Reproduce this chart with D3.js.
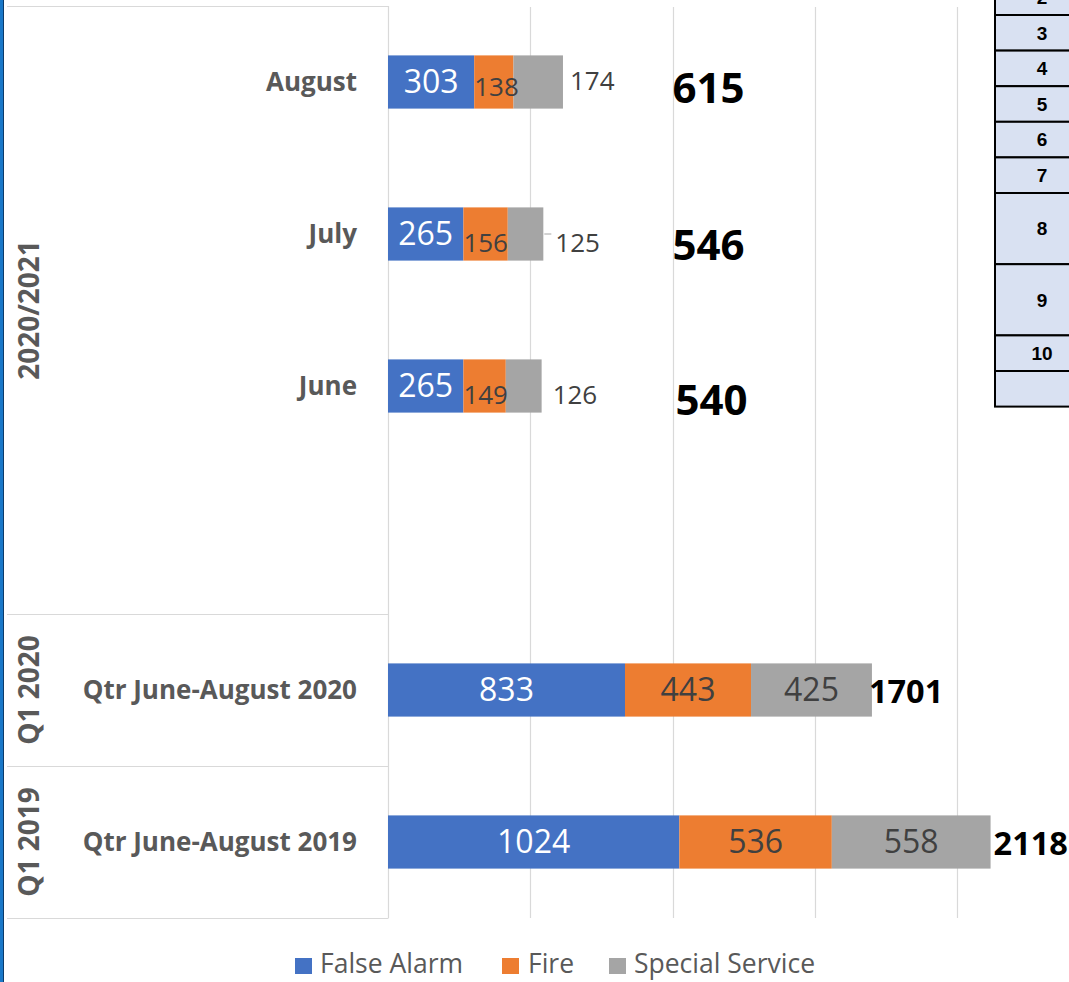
<!DOCTYPE html>
<html>
<head>
<meta charset="utf-8">
<script src="https://cdn.jsdelivr.net/npm/d3@7/dist/d3.min.js"></script>
<style>
  html, body { margin: 0; padding: 0; background: #ffffff; }
  svg { display: block; }
</style>
</head>
<body>
<svg id="chart" width="1069" height="982"></svg>
<script>
// ---------- data ----------
const categories = ["August", "July", "June", "", "Qtr June-August 2020", "Qtr June-August 2019"];
const falseAlarm = [303, 265, 265, null, 833, 1024];
const fire = [138, 156, 149, null, 443, 536];
const specialService = [174, 125, 126, null, 425, 558];
const totals = [615, 546, 540, null, 1701, 2118];
const groupLabels = ["2020/2021", "Q1 2020", "Q1 2019"];
const groupSpans = [4, 1, 1];
const seriesNames = ["False Alarm", "Fire", "Special Service"];
const gridTicks = [0, 500, 1000, 1500, 2000];
const tableLabels = ["2", "3", "4", "5", "6", "7", "8", "9", "10", ""];
const tableRowUnits = [1, 1, 1, 1, 1, 1, 2, 2, 1, 1];

// ---------- layout ----------
const W = 1069, H = 982;
const colors = ["#4472C4", "#ED7D31", "#A5A5A5"];
const FONT = "'Open Sans', 'Noto Sans', sans-serif";
const svg = d3.select("#chart");

const plotTop = 6, plotBottom = 918, axisX = 388, catLeft = 7;
const x = d3.scaleLinear().domain([0, 2000]).range([axisX, 957]);
const y = d3.scaleBand().domain(d3.range(categories.length)).range([plotTop, plotBottom]).padding(0);
const barH = y.bandwidth() * 0.35;
const cy = i => y(i) + y.bandwidth() / 2;

// left blue strip
svg.append("rect").attr("x", 0).attr("y", 0).attr("width", 3).attr("height", H).attr("fill", "#1a78c8");
svg.append("line").attr("x1", 3.5).attr("x2", 3.5).attr("y1", 0).attr("y2", H).attr("stroke", "#0b3b6a").attr("stroke-width", 1);

// gridlines
svg.append("g").selectAll("line").data(gridTicks.slice(1)).join("line")
  .attr("x1", d => Math.round(x(d)) + 0.5).attr("x2", d => Math.round(x(d)) + 0.5)
  .attr("y1", plotTop + 1).attr("y2", plotBottom)
  .attr("stroke", "#d9d9d9").attr("stroke-width", 1.2);

// category frame (multi-level axis)
const frame = svg.append("g").attr("stroke", "#d9d9d9").attr("stroke-width", 1.2).attr("fill", "none");
frame.append("line").attr("x1", axisX + 0.5).attr("x2", axisX + 0.5).attr("y1", plotTop).attr("y2", plotBottom);
let acc = 0;
const groupBounds = [];
groupSpans.forEach((s, gi) => {
  const y0 = y(acc), y1 = y(acc + s - 1) + y.bandwidth();
  groupBounds.push([y0, y1]);
  acc += s;
});
const hLines = [plotTop].concat(groupBounds.map(b => b[1]));
frame.selectAll("line.h").data(hLines).join("line").attr("class", "h")
  .attr("x1", catLeft).attr("x2", axisX + 0.5)
  .attr("y1", d => Math.round(d) + 0.5).attr("y2", d => Math.round(d) + 0.5);

// group labels (rotated)
svg.append("g").selectAll("text").data(groupLabels).join("text")
  .attr("transform", (d, i) => `translate(29,${(groupBounds[i][0] + groupBounds[i][1]) / 2}) rotate(-90)`)
  .attr("text-anchor", "middle").attr("dy", "0.35em")
  .attr("font-family", FONT).attr("font-weight", "bold").attr("font-size", 28)
  .attr("fill", "#595959").text(d => d);

// category labels
svg.append("g").selectAll("text").data(categories).join("text")
  .attr("x", 357).attr("y", (d, i) => cy(i)).attr("dy", "0.35em")
  .attr("text-anchor", "end")
  .attr("font-family", FONT).attr("font-weight", "bold").attr("font-size", 26)
  .attr("fill", "#595959").text(d => d);

// stacked bars
const rows = categories.map((c, i) => ({ i, vals: [falseAlarm[i], fire[i], specialService[i]] }))
  .filter(r => r.vals[0] != null);
const segs = [];
rows.forEach(r => {
  let s = 0;
  r.vals.forEach((v, k) => { segs.push({ i: r.i, k, v, x0: s, x1: s + v }); s += v; });
});
svg.append("g").selectAll("rect").data(segs).join("rect")
  .attr("x", d => x(d.x0)).attr("width", d => x(d.x1) - x(d.x0))
  .attr("y", d => cy(d.i) - barH / 2).attr("height", barH)
  .attr("fill", d => colors[d.k]);

// value labels
const isMonth = i => i < 3;
// nudges for manually placed month labels per row
const monthFireDy = [5, 9, 9];
const monthSpecDx = [7, 12, 11];
const monthSpecDy = [-1, 9, 9];
const totalDy = [6, 11, 14];
const totalDx = [0, 0, 3];

const lab = svg.append("g").attr("font-family", FONT);
segs.forEach(d => {
  const t = lab.append("text").attr("dy", "0.35em").text(d.v);
  if (d.k === 0) {
    t.attr("x", (x(d.x0) + x(d.x1)) / 2).attr("y", cy(d.i)).attr("text-anchor", "middle")
     .attr("font-size", 32).attr("fill", "#ffffff");
  } else if (isMonth(d.i)) {
    if (d.k === 1) {
      t.attr("x", x(d.x0)).attr("y", cy(d.i) + monthFireDy[d.i]).attr("text-anchor", "start");
    } else {
      t.attr("x", x(d.x1) + monthSpecDx[d.i]).attr("y", cy(d.i) + monthSpecDy[d.i]).attr("text-anchor", "start");
    }
    t.attr("font-size", 26).attr("fill", "#404040");
  } else {
    t.attr("x", (x(d.x0) + x(d.x1)) / 2).attr("y", cy(d.i)).attr("text-anchor", "middle")
     .attr("font-size", 32).attr("fill", "#404040");
  }
});
// leader line for July special service label
lab.append("line").attr("x1", x(falseAlarm[1] + fire[1] + specialService[1]) + 1)
  .attr("x2", x(falseAlarm[1] + fire[1] + specialService[1]) + 8)
  .attr("y1", cy(1)).attr("y2", cy(1)).attr("stroke", "#a6a6a6").attr("stroke-width", 1);

// totals
totals.forEach((t, i) => {
  if (t == null) return;
  const txt = lab.append("text").attr("dy", "0.35em").attr("font-weight", "bold").attr("fill", "#000000").text(t);
  if (isMonth(i)) {
    txt.attr("x", x(1000) + totalDx[i]).attr("y", cy(i) + totalDy[i]).attr("font-size", 42);
  } else {
    const end = x(falseAlarm[i] + fire[i] + specialService[i]);
    txt.attr("x", end + (i === 4 ? -3 : 3)).attr("y", cy(i) + 2).attr("font-size", 32.5);
  }
});

// legend
const legendItems = [{ x: 295, tx: 320 }, { x: 502, tx: 528 }, { x: 609, tx: 634 }];
const lg = svg.append("g");
seriesNames.forEach((n, k) => {
  lg.append("rect").attr("x", legendItems[k].x).attr("y", 958).attr("width", 17).attr("height", 16).attr("fill", colors[k]);
  lg.append("text").attr("x", legendItems[k].tx).attr("y", 964).attr("dy", "0.35em")
    .attr("font-family", FONT).attr("font-size", 26.5).attr("fill", "#595959").text(n);
});

// overlapping spreadsheet table (top right)
const tbl = svg.append("g");
const tblX = 995, unitH = 35.6, tblTop = 15 - unitH;
let ty = tblTop;
tableLabels.forEach((lbl, r) => {
  const h = tableRowUnits[r] * unitH;
  tbl.append("rect").attr("x", tblX).attr("y", ty).attr("width", W - tblX + 5).attr("height", h)
    .attr("fill", "#d9e1f2").attr("stroke", "#000000").attr("stroke-width", 2);
  tbl.append("text").attr("x", 1042).attr("y", ty + h / 2).attr("dy", "0.36em")
    .attr("text-anchor", "middle").attr("font-family", "'Liberation Sans', Arial, sans-serif")
    .attr("font-weight", "bold").attr("font-size", 19).attr("fill", "#000000").text(lbl);
  ty += h;
});
</script>
</body>
</html>
